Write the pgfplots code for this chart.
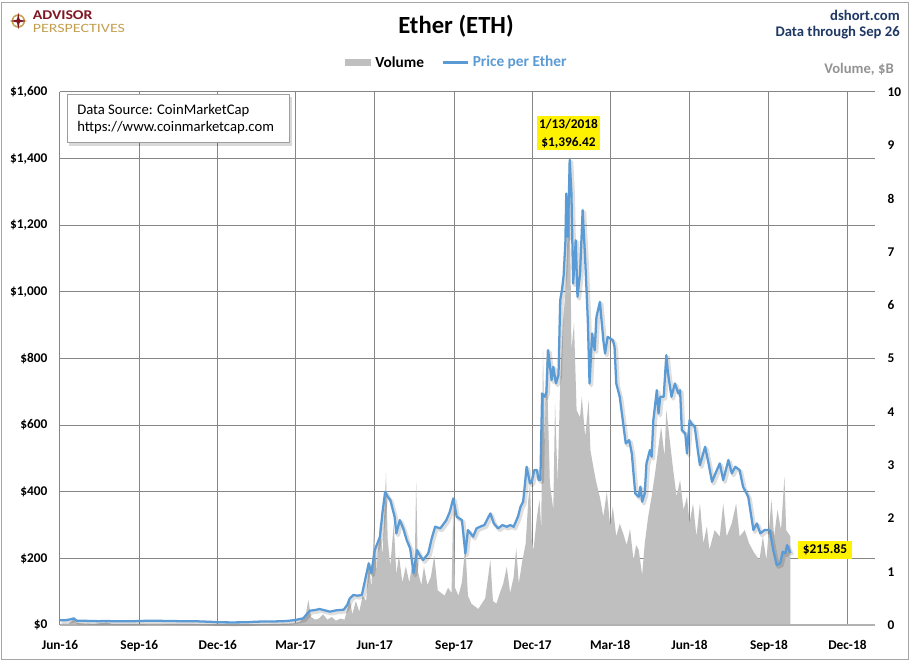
\documentclass[border=0pt]{standalone}
\usepackage{pgfplots}
\pgfplotsset{compat=1.18}
\usepackage{pgfplotstable}
\usepackage{graphicx}
\usepackage{fontspec}
\setmainfont{Carlito}
\definecolor{pblue}{HTML}{5B9BD5}
\definecolor{vgray}{HTML}{BFBFBF}
\definecolor{gridc}{RGB}{134,134,134}
\definecolor{navy}{RGB}{31,56,100}
\definecolor{apred}{RGB}{128,24,36}
\definecolor{apgold}{RGB}{196,160,80}

\pgfplotstableread{
day price
0 14
6 14
12 17
16 20
19 13
25 13
35 12
45 11.5
55 12
62 11
70 11
80 11
92 12
105 13
115 12.5
130 12
145 11
160 11
175 9.5
185 8
200 7.8
215 8
228 10
240 10.5
255 11
265 12.5
273 15
282 20
287 35
290 43
296 45
301 48
307 44
313 40
320 44
329 46
333 60
336 80
340 90
345 88
350 90
355 150
358 185
361 155
365 225
371 265
374 340
377 400
380 385
383 375
388 325
390 275
394 315
398 290
402 255
406 230
410 155
414 225
417 210
421 195
427 215
431 260
435 295
441 290
448 315
452 340
456 380
460 325
466 315
470 215
473 285
479 265
483 290
487 295
492 300
499 335
503 305
508 290
513 300
518 295
522 300
526 295
531 325
534 355
537 370
539 420
541 475
545 425
547 430
550 465
553 465
555 435
557 435
559 695
562 685
564 700
566 825
568 780
570 735
572 775
575 725
578 750
580 975
582 1005
584 1050
586 1150
587 1295
589 1165
591 1396.42
593 1295
595 1025
598 1155
600 985
603 1055
606 1245
609 1095
612 915
614 725
617 875
620 825
622 925
626 970
630 855
632 815
635 865
638 860
641 855
643 835
645 725
649 685
653 605
656 545
660 555
663 515
667 395
671 385
673 415
675 370
678 395
680 485
684 525
686 505
688 615
692 705
694 635
696 685
700 685
703 810
705 755
709 685
713 725
717 695
719 705
721 585
725 575
727 515
730 615
732 605
736 595
740 515
742 480
748 535
752 485
756 430
760 455
765 485
769 435
775 495
779 455
783 475
788 465
792 415
798 385
804 285
808 305
812 275
817 285
823 285
827 225
831 180
835 185
838 220
841 215
843 240
847 215.85
}\pricedata

\pgfplotstableread{
day vol
0 0.02
10 0.02
14 0.08
16 0.12
18 0.05
25 0.03
40 0.02
54 0.05
60 0.02
100 0.02
150 0.02
200 0.01
250 0.02
270 0.03
278 0.06
285 0.2
288 0.47
291 0.15
296 0.1
300 0.12
305 0.2
310 0.1
315 0.15
320 0.08
325 0.12
330 0.1
334 0.35
336 0.47
339 0.2
343 0.45
347 0.25
351 0.55
355 0.45
358 1.2
361 0.7
364 1.8
367 1.0
371 1.9
374 1.3
378 2.85
380 1.6
383 1.1
387 1.9
390 0.95
393 1.3
397 0.8
401 1.1
405 0.8
409 1.2
411 0.9
413 2.69
415 1.0
419 0.75
422 1.1
426 0.75
430 0.9
434 1.3
438 0.65
442 0.6
446 0.55
450 0.7
454 0.6
456 2.3
458 0.7
462 0.55
466 0.8
470 1.5
473 0.55
477 0.4
481 0.35
485 0.3
489 0.4
493 0.5
496 0.85
499 1.22
502 0.45
506 0.4
510 0.6
514 0.78
518 1.09
522 0.6
526 0.9
529 1.44
532 0.78
536 1.2
540 1.53
543 2.35
545 2.66
547 1.6
549 1.4
553 2.03
556 2.35
558 1.8
560 5.16
562 3.28
564 5.2
566 3.9
568 2.66
572 2.16
574 4.16
577 2.66
580 4.54
583 5.66
586 6.22
588 7.04
590 8.7
592 6.7
593 5.16
596 5.66
599 4.03
603 3.9
605 4.28
609 3.53
613 4.22
615 3.28
619 2.91
622 2.66
626 2.4
630 2.03
634 2.5
638 1.85
641 2.22
645 1.66
649 1.9
653 1.72
657 1.5
661 1.8
665 1.22
668 1.5
671 1.41
675 0.94
678 1.53
682 2.03
686 2.41
690 2.85
694 3.35
697 3.72
701 3.16
703 4.03
707 3.47
711 2.91
715 2.41
719 2.72
723 2.16
727 2.41
730 1.91
734 2.28
738 1.66
742 2.28
746 1.53
750 1.85
753 1.41
759 1.78
765 1.66
769 2.28
773 1.66
779 1.91
784 2.28
788 1.66
794 1.78
799 1.53
805 1.35
811 1.22
815 1.66
819 1.22
825 2.35
828 1.66
832 2.16
836 1.78
840 2.78
842 1.78
847 1.66
}\voldata

\begin{document}
\begin{tikzpicture}
% canvas: 910 x 661 px, 1px = 0.75pt
\fill[white] (0,0) rectangle (682.5pt,495.75pt);
\useasboundingbox (0,0) rectangle (682.5pt,495.75pt);

\pgfplotsset{base/.style={
  at={(45pt,27pt)}, anchor=south west,
  scale only axis, width=611.25pt, height=399.75pt,
  xmin=0, xmax=945, clip=false}}

% axis 1: grid and left/bottom labels
\begin{axis}[base, ymin=0, ymax=1600,
  axis line style={draw=none},
  xtick={0,92,183,273,365,457,548,638,730,822,913},
  xticklabels={Jun-16,Sep-16,Dec-16,Mar-17,Jun-17,Sep-17,Dec-17,Mar-18,Jun-18,Sep-18,Dec-18},
  ytick={0,200,400,600,800,1000,1200,1400,1600},
  yticklabels={\$0,\$200,\$400,\$600,\$800,{\$1,000},{\$1,200},{\$1,400},{\$1,600}},
  major tick length=0,
  grid=major, grid style={draw=gridc, line width=0.75pt},
  tick label style={font=\fontsize{10}{12}\selectfont\bfseries, text=black},
  xticklabel style={yshift=-8pt},
  yticklabel style={xshift=-6pt},
]
\addplot[draw=none] coordinates {(0,0)};
\end{axis}

% axis 2: volume
\begin{axis}[base, ymin=0, ymax=10,
  axis x line=none, axis y line*=right,
  axis line style={draw=none},
  ytick={0,1,2,3,4,5,6,7,8,9,10},
  yticklabels={0,1,2,3,4,5,6,7,8,9,10},
  major tick length=0,
  yticklabel style={font=\fontsize{10}{12}\selectfont\bfseries, text=black, xshift=6pt},
]
\addplot[fill=vgray, draw=none] table[x=day, y=vol] {\voldata} \closedcycle;
\end{axis}

% axis 3: price line
\begin{axis}[base, ymin=0, ymax=1600, hide axis]
\draw[vgray!80!gray, line width=1.5pt] (axis cs:0,0) -- (axis cs:945,0);
\addplot[black, opacity=0.13, line width=2.8pt, line join=round, xshift=1.3pt, yshift=-1.5pt] table[x=day, y=price] {\pricedata};
\addplot[pblue, line width=1.7pt, line join=round] table[x=day, y=price] {\pricedata};
\end{axis}

\begin{scope}[x=0.75pt, y=-0.75pt, shift={(0pt,495.75pt)}]
% outer frame
\draw[gray!70, line width=0.75pt] (1,3) rectangle (908,659);
% logo
\fill[apgold] (18.3,21) circle (6.8);
\fill[white] (18.3,21) circle (5.3);
\fill[apred] (18.3,12.5) -- (19.6,19.7) -- (26.8,21) -- (19.6,22.3) -- (18.3,29.5) -- (17,22.3) -- (9.8,21) -- (17,19.7) -- cycle;
\fill[apred] (18.3,21) circle (2.2);
\node[anchor=base west, inner sep=0, text=apred, font=\fontsize{9.3}{10}\selectfont\bfseries] at (32.5,20) {\scalebox{1.27}[1.08]{ADVISOR}};
\node[anchor=base west, inner sep=0, text=apgold, font=\fontsize{9.3}{10}\selectfont] at (32.5,32.2) {\scalebox{1.29}[1.02]{PERSPECTIVES}};
% title
\node[font=\fontsize{18.5}{20}\selectfont\bfseries] at (456,26) {Ether (ETH)};
% top right
\node[anchor=east, inner sep=0, text=navy, font=\fontsize{11}{13}\selectfont\bfseries] at (900,15) {dshort.com};
\node[anchor=east, inner sep=0, text=navy, font=\fontsize{11}{13}\selectfont\bfseries] at (900,33) {Data through Sep 26};
\node[anchor=east, inner sep=0, text=gray!85, font=\fontsize{11}{13}\selectfont\bfseries] at (894,69) {Volume, \$B};
% legend
\fill[vgray] (345,59) rectangle (371,66);
\node[anchor=west, inner sep=0, font=\fontsize{11.5}{13}\selectfont\bfseries] at (375,62.5) {Volume};
\draw[pblue, line width=1.6pt] (443,62.5) -- (468,62.5);
\node[anchor=west, inner sep=0, text=pblue, font=\fontsize{11.5}{13}\selectfont\bfseries] at (472.5,62.5) {Price per Ether};
% data source box
\fill[black, opacity=0.15] (69,97) rectangle (292,146);
\filldraw[fill=white, draw=gray!75, line width=0.75pt] (67,95) rectangle (289,143);
\node[anchor=west, inner sep=0, font=\fontsize{11}{13}\selectfont] at (77,111) {Data Source: CoinMarketCap};
\node[anchor=west, inner sep=0, font=\fontsize{11}{13}\selectfont] at (77,128) {https://www.coinmarketcap.com};
% peak annotation
\fill[yellow] (537,116) rectangle (600,150);
\node[align=center, inner sep=0, font=\fontsize{10}{13.8}\selectfont\bfseries] at (568.5,133.5) {1/13/2018\\\$1,396.42};
% last value annotation
\fill[yellow] (798,541) rectangle (852,559);
\node[inner sep=0, font=\fontsize{10}{12}\selectfont\bfseries] at (825,550) {\$215.85};
\end{scope}
\end{tikzpicture}
\end{document}
